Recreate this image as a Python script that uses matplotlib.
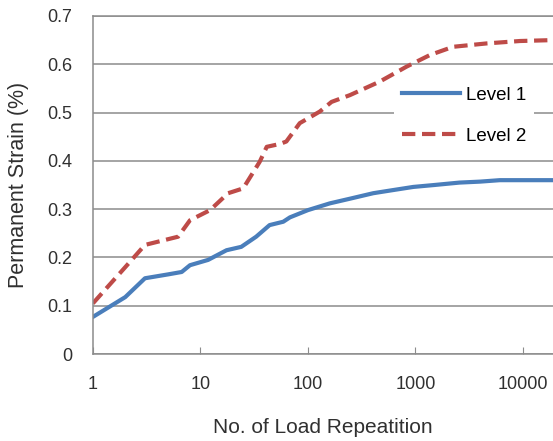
import matplotlib
matplotlib.use("Agg")
import matplotlib.pyplot as plt

plt.rcParams['font.family'] = ['Liberation Sans', 'DejaVu Sans']

# load repetitions (log scale)
n_level1 = [1, 2, 3.05, 5, 6.7, 8, 11.8, 17.5, 24, 33, 44, 59, 68, 100, 160, 250,
            405, 600, 955, 1500, 2570, 4000, 6100, 10000, 20000]
strain_level1 = [0.077, 0.118, 0.157, 0.165, 0.170, 0.184, 0.195, 0.215, 0.222, 0.243,
                 0.267, 0.274, 0.283, 0.298, 0.312, 0.322, 0.333, 0.339, 0.346, 0.350,
                 0.355, 0.357, 0.360, 0.360, 0.360]

n_level2 = [1, 2, 3.05, 6.2, 8, 12.3, 18.1, 25, 35.6, 41.4, 55, 63, 84, 129, 166, 246,
            466, 828, 1365, 2240, 4600, 9400, 20000]
strain_level2 = [0.105, 0.180, 0.226, 0.243, 0.277, 0.298, 0.333, 0.343, 0.398, 0.429,
                 0.435, 0.440, 0.478, 0.502, 0.522, 0.536, 0.564, 0.595, 0.619, 0.636,
                 0.643, 0.648, 0.650]

yticks = [0, 0.1, 0.2, 0.3, 0.4, 0.5, 0.6, 0.7]
ytick_labels = ['0', '0.1', '0.2', '0.3', '0.4', '0.5', '0.6', '0.7']
xticks = [1, 10, 100, 1000, 10000]
xtick_labels = ['1', '10', '100', '1000', '10000']

fig = plt.figure(figsize=(5.53, 4.41), dpi=100)
ax = fig.add_axes([0.168, 0.197, 0.832, 0.767])

ax.plot(n_level1, strain_level1, color='#4A7EBB', lw=3, label='Level 1')
ax.plot(n_level2, strain_level2, color='#BE4B48', lw=3, dashes=(3.2, 1.6), label='Level 2')

ax.set_xscale('log')
ax.set_xlim(1, 10 ** 4.28)
ax.set_ylim(0, 0.7)
ax.set_yticks(yticks)
ax.set_yticklabels(ytick_labels)
ax.set_xticks(xticks)
ax.set_xticklabels(xtick_labels)
ax.minorticks_off()

ax.grid(axis='y', color='#8c8c8c', lw=1.1)
ax.set_axisbelow(True)
for s in ['left', 'bottom', 'top']:
    ax.spines[s].set_color('#8c8c8c')
    ax.spines[s].set_linewidth(1.1)
ax.spines['right'].set_visible(False)

ax.tick_params(axis='y', length=0, pad=15, labelsize=13, labelcolor='#303030')
ax.tick_params(axis='x', direction='in', length=5, color='#8c8c8c', pad=16,
               labelsize=13, labelcolor='#303030')

ax.set_xlabel('No. of Load Repeatition', fontsize=15, color='#303030', labelpad=18)
ax.set_ylabel('Permanent Strain (%)', fontsize=15.5, color='#303030', labelpad=13)

leg = ax.legend(loc='upper left', bbox_to_anchor=(385 / 553, 1 - 70 / 441),
                bbox_transform=fig.transFigure, fontsize=13.5, handlelength=3.1,
                labelspacing=1.25, borderpad=0.4, handletextpad=0.3,
                facecolor='white', edgecolor='none', framealpha=1, fancybox=False)

fig.savefig('out.png', dpi=100)
